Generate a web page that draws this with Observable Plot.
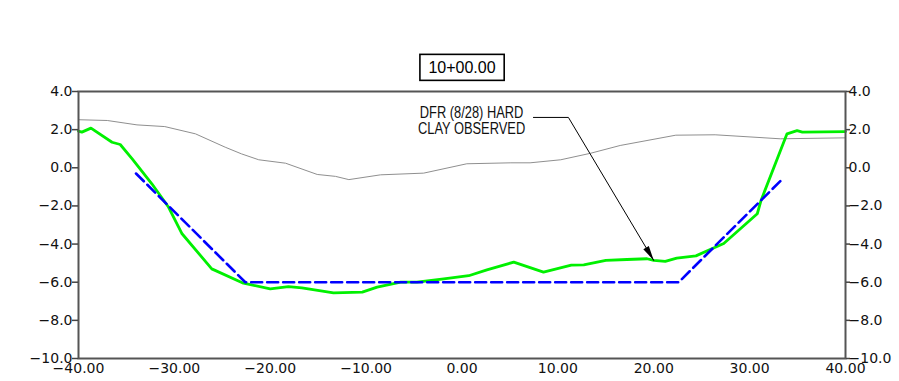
<!DOCTYPE html>
<html>
<head>
<meta charset="utf-8">
<script src="https://cdn.jsdelivr.net/npm/d3@7"></script>
<script src="https://cdn.jsdelivr.net/npm/@observablehq/plot@0.6"></script>
<style>
  html, body { margin: 0; padding: 0; background: #fff; }
</style>
</head>
<body>
<div id="chart"></div>
<script>
// Cross-section at station 10+00.00: offset (ft) vs elevation (ft)

// Existing ground (thin gray)
const groundOffset = [-40, -37, -33.9, -31, -27.8, -24.7, -23, -21.2, -18.4, -15.1, -13.2, -11.8, -8.5, -4, 0.5, 5.1, 7.1, 10.3, 13.4, 16.5, 22.3, 26.4, 33.2, 40];
const groundElev   = [2.52, 2.48, 2.25, 2.16, 1.78, 1.08, 0.73, 0.42, 0.24, -0.35, -0.45, -0.62, -0.37, -0.28, 0.21, 0.26, 0.26, 0.42, 0.76, 1.17, 1.71, 1.73, 1.52, 1.57];

// Survey profile (green)
const surveyOffset = [-40, -39.65, -38.7, -36.5, -35.65, -34.4, -32.35, -30.6, -29.2, -26.1, -22.8, -20.0, -18.1, -16.7, -13.4, -10.4, -8.85, -6.4, -4.7, -1.9, 0.7, 2.6, 5.4, 8.5, 11.4, 12.7, 15.0, 17.2, 19.3, 20.0, 21.2, 22.4, 24.4, 27.3, 30.8, 31.2, 33.9, 34.95, 35.5, 40];
const surveyElev   = [1.92, 1.87, 2.08, 1.34, 1.22, 0.47, -0.84, -2.07, -3.46, -5.30, -6.05, -6.35, -6.23, -6.30, -6.56, -6.52, -6.26, -6.0, -6.0, -5.82, -5.66, -5.35, -4.95, -5.47, -5.10, -5.09, -4.86, -4.81, -4.77, -4.86, -4.91, -4.74, -4.62, -3.97, -2.41, -1.7, 1.78, 1.95, 1.87, 1.90];

// Design template (blue dashed)
const designOffset = [-34, -22.6, 22.6, 33.2];
const designElev   = [-0.3, -6, -6, -0.7];

// Axis ticks and their labels
const xTicks = [-40, -30, -20, -10, 0, 10, 20, 30, 40];
const xTickLabels = ["\u221240.00", "\u221230.00", "\u221220.00", "\u221210.00", "0.00", "10.00", "20.00", "30.00", "40.00"];
const yTicks = [4, 2, 0, -2, -4, -6, -8, -10];
const yTickLabels = ["4.0", "2.0", "0.0", "\u22122.0", "\u22124.0", "\u22126.0", "\u22128.0", "\u221210.0"];

// Station title and note with its leader
const stationLabel = ["10+00.00"];
const noteText = ["DFR (8/28) HARD\nCLAY OBSERVED"];
const noteAt = [{x: 1.0, y: 2.48}];
const leaderOffset = [7.45, 11.1, 20.0];
const leaderElev = [2.64, 2.64, -4.86];

const ground = groundOffset.map((x, i) => ({x, y: groundElev[i]}));
const survey = surveyOffset.map((x, i) => ({x, y: surveyElev[i]}));
const design = designOffset.map((x, i) => ({x, y: designElev[i]}));
const leader = leaderOffset.map((x, i) => ({x, y: leaderElev[i]}));
const note = noteAt.map((d, i) => ({...d, text: noteText[i]}));

const W = 899, H = 381;
const M = {top: 91, right: 54, bottom: 23, left: 78};
const xDomain = [-40, 40], yDomain = [-10, 4];

// screen direction of the final leader segment, for the arrowhead
const kx = (W - M.left - M.right) / (xDomain[1] - xDomain[0]);
const ky = (H - M.top - M.bottom) / (yDomain[1] - yDomain[0]);
const [a, b] = leader.slice(-2);
const headAngle = Math.atan2(-(b.y - a.y) * ky, (b.x - a.x) * kx) * 180 / Math.PI + 90;

// narrow filled arrowhead, tip at the origin pointing up
const spike = {
  draw(ctx) {
    ctx.moveTo(0, 0);
    ctx.lineTo(3.2, 15);
    ctx.lineTo(-3.2, 15);
    ctx.closePath();
  }
};

const xFmt = new Map(xTicks.map((v, i) => [v, xTickLabels[i]]));
const yFmt = new Map(yTicks.map((v, i) => [v, yTickLabels[i]]));

const chart = Plot.plot({
  width: W,
  height: H,
  marginTop: M.top,
  marginRight: M.right,
  marginBottom: M.bottom,
  marginLeft: M.left,
  style: {fontFamily: "DejaVu Sans", fontSize: "14px", background: "#fff", overflow: "visible"},
  x: {domain: xDomain, label: null},
  y: {domain: yDomain, label: null},
  marks: [
    Plot.line(ground, {x: "x", y: "y", stroke: "#8f8f8f", strokeWidth: 1}),
    Plot.line(survey, {x: "x", y: "y", stroke: "#00f000", strokeWidth: 2.8, strokeLinejoin: "round"}),
    Plot.line(design, {x: "x", y: "y", stroke: "#0000ff", strokeWidth: 2.6, strokeDasharray: "11,5"}),
    Plot.frame({stroke: "#555", strokeWidth: 2}),
    Plot.axisY(yTicks, {anchor: "left", tickSize: 6, tickPadding: 0, tickFormat: d => yFmt.get(d), stroke: "#444", strokeWidth: 1.5, fill: "#111", fontSize: 14, label: null}),
    Plot.axisY(yTicks, {anchor: "right", tickSize: 4, tickPadding: -1, tickFormat: d => yFmt.get(d), stroke: "#444", strokeWidth: 1.5, fill: "#111", fontSize: 14, label: null}),
    Plot.axisX(xTicks, {anchor: "bottom", tickSize: 0, tickPadding: 5, tickFormat: d => xFmt.get(d), fill: "#111", fontSize: 14, label: null}),
    Plot.line(leader, {x: "x", y: "y", stroke: "#000", strokeWidth: 1}),
    Plot.dot(leader.slice(-1), {x: "x", y: "y", symbol: spike, fill: "#000", stroke: "none", rotate: headAngle}),
    Plot.text(note, {x: "x", y: "y", text: "text", fontFamily: "'Liberation Sans', Arial, sans-serif", fontSize: 16.5, lineHeight: 0.98, fill: "#111"}),
    Plot.text(stationLabel, {x: () => 0, frameAnchor: "top", dy: -30, text: d => d, fontFamily: "'Liberation Sans', Arial, sans-serif", fontSize: 16, fill: "#000"})
  ]
});

document.getElementById("chart").append(chart);

const texts = d3.select(chart).selectAll("text");

// condensed lettering for the note
texts.filter(function() { return this.textContent.startsWith(noteText[0].split("\n")[0]); })
  .each(function() {
    const t = this.getAttribute("transform") || "";
    this.setAttribute("transform", t + " scale(0.78,1)");
  });

// box around the station label
const label = texts.filter(function() { return this.textContent === stationLabel[0]; }).node();
if (label) {
  const bb = label.getBBox();
  const padX = 8.5, padY = 4.5;
  d3.select(label.parentNode).insert("rect", "text")
    .attr("transform", label.getAttribute("transform"))
    .attr("x", bb.x - padX)
    .attr("y", bb.y - padY)
    .attr("width", bb.width + 2 * padX)
    .attr("height", bb.height + 2 * padY)
    .attr("fill", "#fff")
    .attr("stroke", "#000")
    .attr("stroke-width", 1.6);
}
</script>
</body>
</html>
